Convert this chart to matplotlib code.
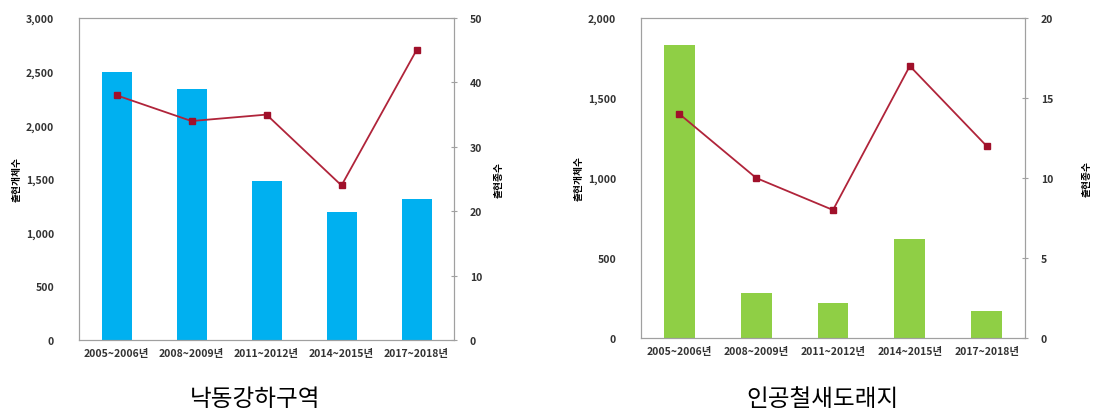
import numpy as np
import matplotlib.pyplot as plt

plt.rcParams['font.family'] = ['Noto Sans CJK KR', 'DejaVu Sans']

periods = ['2005~2006년', '2008~2009년', '2011~2012년', '2014~2015년', '2017~2018년']

# 낙동강하구역
nakdong_individuals = [2500, 2340, 1480, 1190, 1310]
nakdong_species = [38, 34, 35, 24, 45]

# 인공철새도래지
artificial_individuals = [1830, 280, 220, 620, 170]
artificial_species = [14, 10, 8, 17, 12]

left_label = '출현개체수'
right_label = '출현종수'
titles = ['낙동강하구역', '인공철새도래지']

fig = plt.figure(figsize=(11.04, 4.14), dpi=100)
W, H = 1104, 414


def make_panel(rect, bars, line, bar_color, ymax_l, step_l, ymax_r, step_r, title, title_x, rpad):
    ax = fig.add_axes(rect)
    idx = np.arange(len(periods))
    ax.bar(idx, bars, width=0.4, color=bar_color, zorder=2)
    ax.set_xlim(-0.5, len(periods) - 0.5)
    ax.set_ylim(0, ymax_l)
    ax.set_yticks(np.arange(0, ymax_l + 1, step_l))
    ax.set_yticklabels(['{:,}'.format(v) for v in np.arange(0, ymax_l + 1, step_l)],
                       fontsize=7.5, fontweight='bold', color='#333333')
    ax.set_xticks(idx)
    ax.set_xticklabels(periods, fontsize=7.5, fontweight='bold', color='#333333')
    ax.tick_params(axis='x', length=0, pad=6)
    ax.tick_params(axis='y', length=0, pad=18)
    ax.set_ylabel(left_label, fontsize=7, fontweight='bold', labelpad=3)
    for s in ax.spines.values():
        s.set_color('#a0a0a0')

    ax2 = ax.twinx()
    ax2.plot(idx, line, color='#b0243a', marker='s', markersize=4,
             markerfacecolor='#a0102a', markeredgecolor='#a0102a', linewidth=1.3, zorder=3)
    ax2.set_ylim(0, ymax_r)
    ax2.set_yticks(np.arange(0, ymax_r + 1, step_r))
    ax2.set_yticklabels([str(v) for v in np.arange(0, ymax_r + 1, step_r)],
                        fontsize=7.5, fontweight='bold', color='#333333')
    ax2.tick_params(axis='y', direction='inout', length=5, color='#a0a0a0', pad=9)
    ax2.set_ylabel(right_label, fontsize=7, fontweight='bold', rotation=90, labelpad=rpad)
    for s in ax2.spines.values():
        s.set_color('#a0a0a0')

    fig.text(title_x, 1 - 400 / H, title, fontsize=17, ha='center', va='center')


make_panel([79 / W, 1 - 341 / H, (454 - 79) / W, (341 - 19) / H],
           nakdong_individuals, nakdong_species, '#00b0f0', 3000, 500, 50, 10,
           titles[0], 255 / W, 8)
make_panel([641 / W, 1 - 339 / H, (1025 - 641) / W, (339 - 19) / H],
           artificial_individuals, artificial_species, '#8fcf45', 2000, 500, 20, 5,
           titles[1], 823 / W, 20)

fig.savefig('out.png', dpi=100)
